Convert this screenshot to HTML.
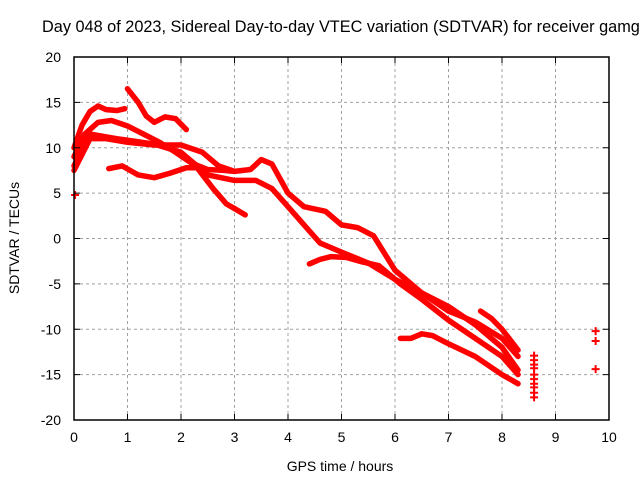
<!DOCTYPE html>
<html><head><meta charset="utf-8"><style>
body{margin:0;background:#fff;}
svg{display:block;font-family:"Liberation Sans",sans-serif;}
</style></head><body>
<svg id="chart" width="640" height="480">
<text x="42" y="32" font-size="16.3" text-anchor="start">Day 048 of 2023, Sidereal Day-to-day VTEC variation (SDTVAR) for receiver gamg</text>
<g id="grid"></g>
<g id="series"></g>
<rect x="74" y="57" width="535" height="363" fill="none" stroke="#000" stroke-width="1.5"/>
<g id="ticks"></g>
<text x="340" y="471" font-size="14" text-anchor="middle">GPS time / hours</text>
<text x="19" y="238" font-size="14" text-anchor="middle" transform="rotate(-90 19 238)">SDTVAR / TECUs</text>
</svg>
<script>
const xTicks=[0,1,2,3,4,5,6,7,8,9,10];
const yTicks=[20,15,10,5,0,-5,-10,-15,-20];
const t1x=[1.0,1.2,1.35,1.5,1.7,1.9,2.1];
const t1y=[16.5,15,13.5,12.8,13.4,13.2,12.0];
const t2x=[0,0.15,0.3,0.45,0.6,0.8,0.95];
const t2y=[10,12.5,14,14.6,14.2,14.1,14.3];
const t3x=[0,0.2,0.45,0.7,1.0,1.3,1.6,1.9,2.2,2.5,2.8,3.0];
const t3y=[9,11.5,12.8,13,12.4,11.5,10.6,9.5,8.3,7.6,7.5,7.4];
const t4x=[0,0.3,0.6,1.0,1.5,2.0,2.4,2.7,3.0,3.3,3.5,3.7,4.0,4.3,4.7,5.0,5.3,5.6,6.0,6.5,7.0,7.5,8.0,8.3];
const t4y=[7.5,11,11,10.6,10.3,10.3,9.5,8,7.4,7.6,8.7,8.2,5,3.5,3,1.5,1.2,0.3,-3.5,-6,-8,-9.2,-11,-13];
const t5x=[0,0.3,0.8,1.5,2.0,2.5,3.0,3.4,3.7,4.0,4.3,4.6,5.0,5.5,6.0,6.5,7.0,7.5,8.0,8.3];
const t5y=[8,11.5,11,10.4,9.5,7,6.4,6.4,5.5,3.5,1.5,-0.5,-1.5,-2.7,-4.5,-6,-7.5,-9.5,-12,-14.5];
const t6x=[0.65,0.9,1.2,1.5,1.8,2.1,2.3,2.6,2.85,3.0,3.2];
const t6y=[7.7,8,7,6.7,7.2,7.8,7.8,5.5,3.8,3.3,2.6];
const t7x=[4.4,4.6,4.8,5.1,5.4,5.7,6.1,6.5,7.0,7.5,8.0,8.3];
const t7y=[-2.8,-2.3,-2,-2.1,-2.6,-3,-5,-6.7,-9,-11,-13,-15];
const t8x=[6.1,6.3,6.5,6.7,7.0,7.5,8.0,8.3];
const t8y=[-11,-11,-10.5,-10.7,-11.6,-13,-15,-16];
const t9x=[7.6,7.8,8.0,8.3];
const t9y=[-8,-8.8,-10,-12.3];
const ptX=[0.02,8.6,8.6,8.6,8.6,8.6,8.6,8.6,8.6,8.6,8.6,9.75,9.75,9.75];
const ptY=[4.8,-12.9,-13.4,-13.9,-14.3,-15,-15.5,-16,-16.4,-17,-17.5,-10.2,-11.3,-14.4];
const NS='http://www.w3.org/2000/svg';
const sx=h=>74+h*53.5;
const sy=v=>238.5-v*9.075;
const grid=document.getElementById('grid'),ticks=document.getElementById('ticks'),ser=document.getElementById('series');
function mk(tag,attrs,parent){const e=document.createElementNS(NS,tag);for(const k in attrs)e.setAttribute(k,attrs[k]);parent.appendChild(e);return e;}
xTicks.forEach(t=>{const x=sx(t);
 if(t>0&&t<10){const g=mk('line',{x1:x,x2:x,y1:57,y2:420,stroke:'#a0a0a0','stroke-dasharray':'3,3'},grid);
 
 }
 mk('line',{x1:x,x2:x,y1:420,y2:414,stroke:'#000'},ticks);mk('line',{x1:x,x2:x,y1:57,y2:63,stroke:'#000'},ticks);
 const l=mk('text',{x:x,y:442,'font-size':14,'text-anchor':'middle'},ticks);l.textContent=t;
 
 });
yTicks.forEach(t=>{const y=sy(t);
 if(t>-20&&t<20){const g=mk('line',{x1:74,x2:609,y1:y,y2:y,stroke:'#a0a0a0','stroke-dasharray':'3,3'},grid);
 
 }
 mk('line',{x1:74,x2:80,y1:y,y2:y,stroke:'#000'},ticks);mk('line',{x1:603,x2:609,y1:y,y2:y,stroke:'#000'},ticks);
 const l=mk('text',{x:61,y:y+5,'font-size':14,'text-anchor':'end'},ticks);l.textContent=t;
 
 });
const tracks=[[t1x,t1y],[t2x,t2y],[t3x,t3y],[t4x,t4y],[t5x,t5y],[t6x,t6y],[t7x,t7y],[t8x,t8y],[t9x,t9y]];
tracks.forEach((tr,i)=>{const pts=tr[0].map((h,j)=>sx(h)+','+sy(tr[1][j])).join(' ');
 const p=mk('polyline',{points:pts,fill:'none',stroke:'#ff0000','stroke-width':5.5,'stroke-linejoin':'round','stroke-linecap':'round'},ser);
 
 });
ptX.forEach((h,i)=>{const x=sx(h),y=sy(ptY[i]);
 const p=mk('path',{d:`M${x-4},${y}H${x+4}M${x},${y-4}V${y+4}`,stroke:'#ff0000','stroke-width':2},ser);
 
 });
</script>
</body></html>
